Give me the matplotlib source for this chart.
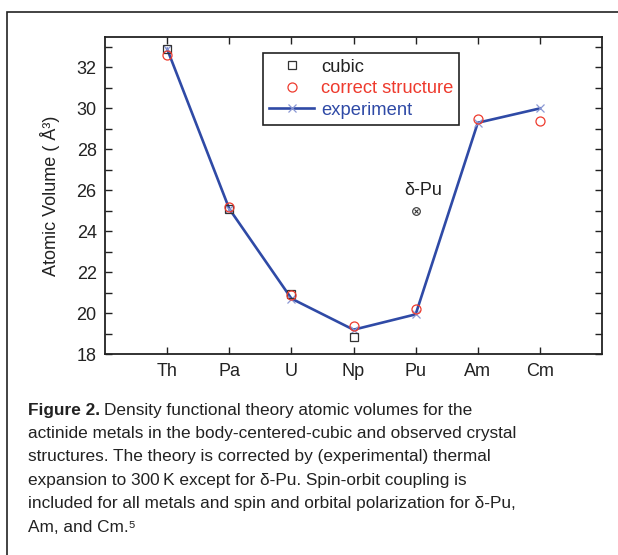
import matplotlib
matplotlib.use("Agg")
import matplotlib.pyplot as plt
from matplotlib.patches import Rectangle

plt.rcParams['font.family'] = ['Liberation Sans', 'DejaVu Sans']

# data
metals = ['Th', 'Pa', 'U', 'Np', 'Pu', 'Am', 'Cm']
pos = [1, 2, 3, 4, 5, 6, 7]
experiment = [32.9, 25.1, 20.72, 19.2, 19.95, 29.3, 30.0]
cubic_pos = [1, 2, 3, 4]
cubic = [32.88, 25.1, 20.96, 18.85]
correct = [32.6, 25.17, 20.88, 19.38, 20.2, 29.5, 29.38]
delta_pu_x = 5
delta_pu = 25.0

fig = plt.figure(figsize=(6.18, 5.55), dpi=100)

# outer frame of the figure panel (runs off the right and bottom edges)
fig.patches.append(Rectangle((0.0108, -0.1), 1.2, 0.9789 + 0.1, transform=fig.transFigure,
                             fill=False, edgecolor='#222222', linewidth=1.2))

ax = fig.add_axes([0.1699, 0.3616, 0.8043, 0.5723])

blue = '#2f4aa6'
ax.plot(pos, experiment, color=blue, linewidth=1.9, marker='x', markersize=6,
        markeredgecolor='#8a98d4', markeredgewidth=0.9, label='experiment', zorder=2)
ax.plot(cubic_pos, cubic, linestyle='none', marker='s', markersize=6, markerfacecolor='none',
        markeredgecolor='#333333', markeredgewidth=0.9, label='cubic', zorder=3)
ax.plot(pos, correct, linestyle='none', marker='o', markersize=6.5, markerfacecolor='none',
        markeredgecolor='#ee3b2e', markeredgewidth=0.9, label='correct structure', zorder=4)
# delta-Pu point
ax.plot([delta_pu_x], [delta_pu], linestyle='none', marker='o', markersize=5.5,
        markerfacecolor='none', markeredgecolor='#333333', markeredgewidth=0.8, zorder=3)
ax.plot([delta_pu_x], [delta_pu], linestyle='none', marker='x', markersize=3.5,
        markeredgecolor='#333333', markeredgewidth=0.8, zorder=3)
ax.text(delta_pu_x + 0.12, 26.0, 'δ-Pu', fontsize=13, ha='center', va='center', color='#222222')

ax.set_xlim(0, 8)
ax.set_ylim(18, 33.5)
ax.set_xticks(pos)
ax.set_xticklabels(metals)
ax.set_yticks(range(18, 34, 2))
ax.set_yticks(range(18, 34), minor=True)
ax.tick_params(which='both', direction='in', top=True, right=True, labelsize=13,
               colors='#222222', width=1.0)
ax.tick_params(which='major', length=5, pad=6)
ax.tick_params(which='minor', length=5)
ax.tick_params(axis='x', which='minor', top=False, bottom=False)
for s in ax.spines.values():
    s.set_linewidth(1.3)
    s.set_color('#222222')

ax.set_ylabel('Atomic Volume ( Å³)', fontsize=13, color='#222222', labelpad=12)

h, l = ax.get_legend_handles_labels()
order = [1, 2, 0]
leg = ax.legend([h[i] for i in order], [l[i] for i in order], loc='upper left',
                bbox_to_anchor=(0.318, 0.9497), borderaxespad=0, fancybox=False,
                edgecolor='#222222', framealpha=1, fontsize=13.2, handlelength=2.46,
                handletextpad=0.37, labelspacing=0.25, borderpad=0.33,
                labelcolor=['#222222', '#ee3b2e', blue])
leg.get_frame().set_linewidth(1.2)

# caption
cap_x = 28 / 618
first = fig.text(cap_x, 1 - 410 / 555, 'Figure 2.', fontsize=12.4, fontweight='bold',
                 va='center', color='#222222')
fig.canvas.draw()
bb = first.get_window_extent(fig.canvas.get_renderer())
fig.text(bb.x1 / 618 + 0.006, 1 - 410 / 555,
         'Density functional theory atomic volumes for the', fontsize=12.4,
         va='center', color='#222222')
rest = ['actinide metals in the body-centered-cubic and observed crystal',
        'structures. The theory is corrected by (experimental) thermal',
        'expansion to 300\u2009K except for δ-Pu. Spin-orbit coupling is',
        'included for all metals and spin and orbital polarization for δ-Pu,',
        'Am, and Cm.\u2075']
for i, line in enumerate(rest):
    fig.text(cap_x, 1 - (410 + 23.4 * (i + 1)) / 555, line, fontsize=12.4,
             va='center', color='#222222')

fig.savefig('out.png', dpi=100)
